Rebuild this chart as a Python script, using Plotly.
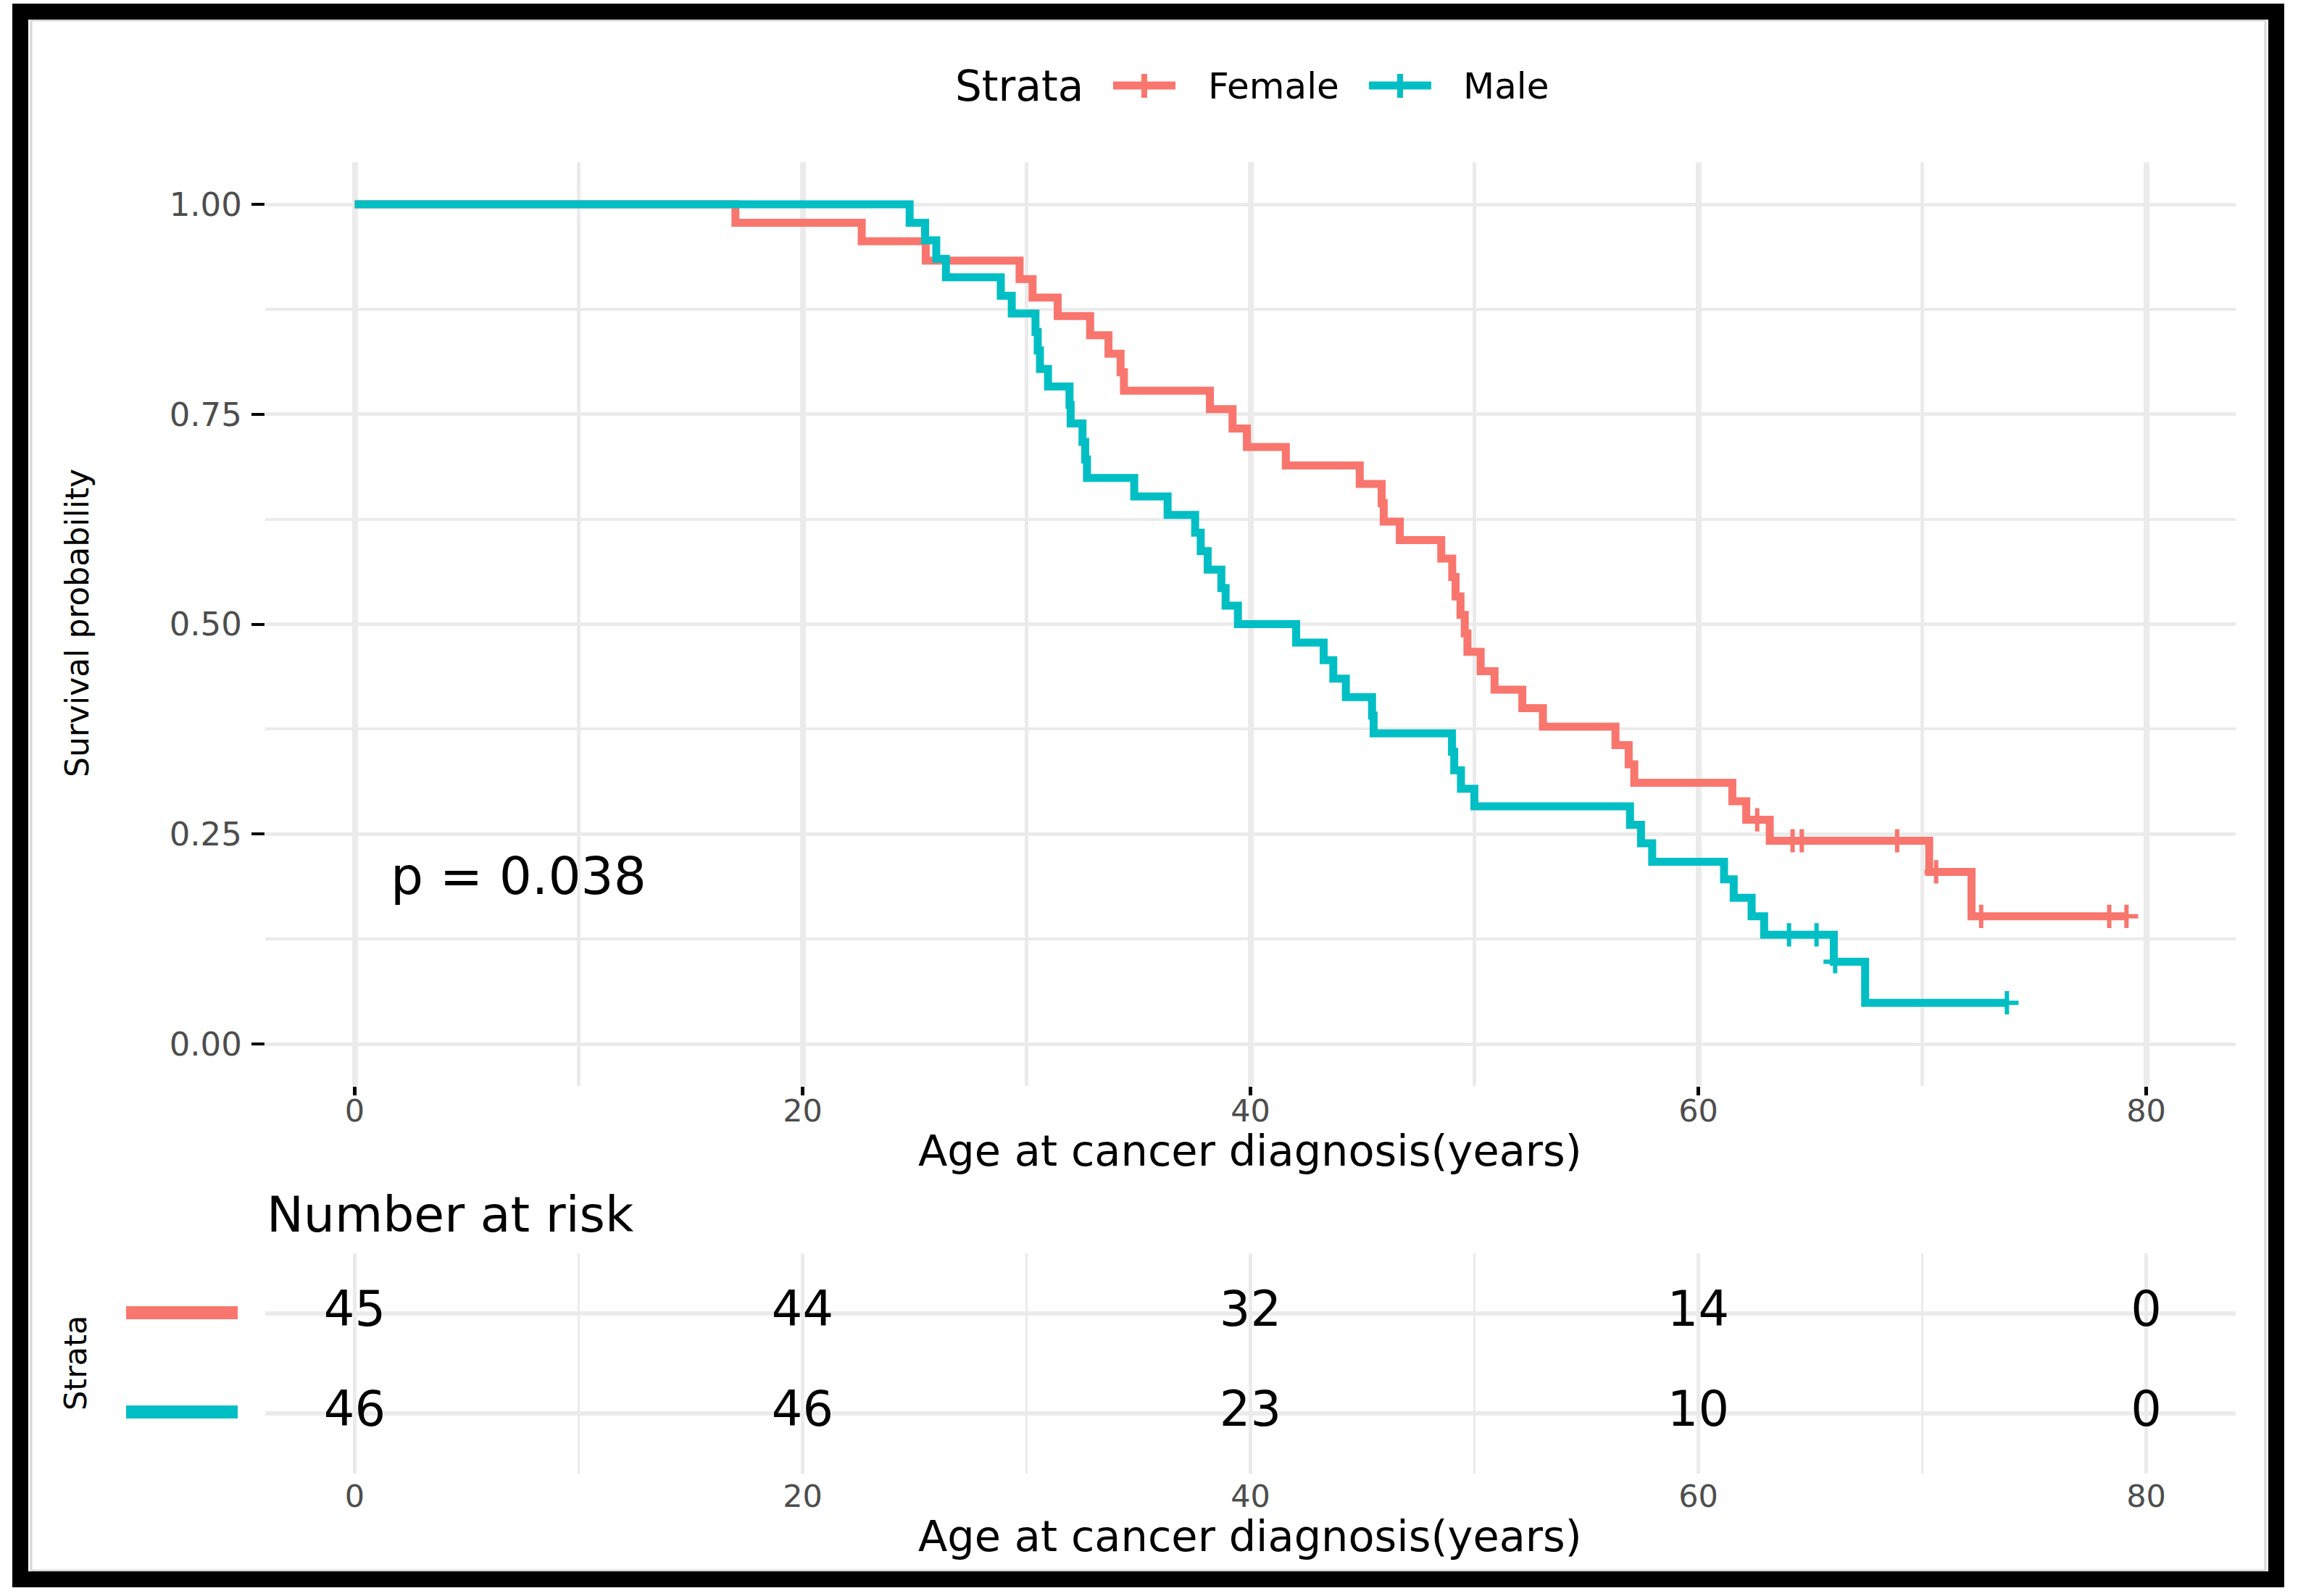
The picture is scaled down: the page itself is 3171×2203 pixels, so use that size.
import plotly.graph_objects as go

# ---------------- data ----------------
female_time = [0, 17.0, 22.64, 25.5, 29.69, 30.27, 31.39, 32.84, 33.66, 34.2, 34.35, 38.19, 39.2, 39.84,
               41.58, 44.88, 45.86, 45.95, 46.67, 48.52, 49.01, 49.16, 49.38, 49.57, 49.69, 50.28, 50.9,
               52.14, 53.06, 56.3, 56.89, 57.14, 61.52, 62.14, 63.19, 70.31, 72.2, 79.12]
female_surv = [1.0, 0.978, 0.956, 0.933, 0.911, 0.889, 0.867, 0.844, 0.822, 0.8, 0.778, 0.756, 0.733, 0.711,
               0.689, 0.667, 0.644, 0.622, 0.6, 0.578, 0.556, 0.533, 0.511, 0.489, 0.467, 0.444, 0.422,
               0.4, 0.378, 0.356, 0.333, 0.311, 0.289, 0.267, 0.242, 0.205, 0.152, 0.152]
female_cens_time = [62.63, 64.21, 64.62, 68.88, 70.62, 72.63, 78.35, 79.12]
female_cens_surv = [0.267, 0.242, 0.242, 0.242, 0.205, 0.152, 0.152, 0.152]

male_time = [0, 24.78, 25.47, 25.97, 26.4, 28.85, 29.34, 30.4, 30.5, 30.6, 30.96, 31.92, 31.97, 32.5,
             32.62, 32.7, 34.81, 36.3, 37.53, 37.78, 38.09, 38.7, 38.89, 39.44, 42.04, 43.27, 43.7, 44.26,
             45.43, 45.5, 49.0, 49.1, 49.4, 50.0, 56.95, 57.44, 57.94, 61.15, 61.58, 62.38, 62.94, 66.05,
             67.45, 73.78]
male_surv = [1.0, 0.978, 0.957, 0.935, 0.913, 0.891, 0.87, 0.848, 0.826, 0.804, 0.783, 0.761, 0.739, 0.717,
             0.696, 0.674, 0.652, 0.63, 0.609, 0.587, 0.565, 0.543, 0.522, 0.5, 0.478, 0.457, 0.435, 0.413,
             0.391, 0.37, 0.348, 0.326, 0.304, 0.283, 0.261, 0.239, 0.217, 0.196, 0.174, 0.152, 0.13, 0.098,
             0.049, 0.049]
male_cens_time = [64.05, 65.28, 66.11, 73.78]
male_cens_surv = [0.13, 0.13, 0.098, 0.049]

risk_times = [0, 20, 40, 60, 80]
risk_female = [45, 44, 32, 14, 0]
risk_male = [46, 46, 23, 10, 0]

x_ticks = [0, 20, 40, 60, 80]
y_ticks = [0, 0.25, 0.5, 0.75, 1.0]
y_ticktext = ["0.00", "0.25", "0.50", "0.75", "1.00"]
strata_names = ["Female", "Male"]
p_text = "p = 0.038"

# ---------------- styling ----------------
W, H = 3171, 2203
RED = "#F8766D"
CYAN = "#00BFC4"
GRID = "#EBEBEB"
FONT = "DejaVu Sans"
TICKCOL = "#4D4D4D"


def px(x):
    return x / W


def py(y):
    return 1 - y / H


fig = go.Figure()

# survival curves
for t, s, ct, cs, col, name in [
    (female_time, female_surv, female_cens_time, female_cens_surv, RED, strata_names[0]),
    (male_time, male_surv, male_cens_time, male_cens_surv, CYAN, strata_names[1]),
]:
    fig.add_trace(go.Scatter(x=t, y=s, mode="lines", line=dict(color=col, width=11, shape="hv"),
                             name=name, showlegend=False, xaxis="x", yaxis="y"))
    fig.add_trace(go.Scatter(x=ct, y=cs, mode="markers",
                             marker=dict(symbol="cross-thin", size=23, color=col,
                                         line=dict(color=col, width=6)),
                             showlegend=False, xaxis="x", yaxis="y"))

# risk table numbers
fig.add_trace(go.Scatter(x=risk_times, y=[2] * len(risk_times), mode="text",
                         text=[str(v) for v in risk_female],
                         textfont=dict(family=FONT, size=67, color="black"),
                         showlegend=False, xaxis="x2", yaxis="y2"))
fig.add_trace(go.Scatter(x=risk_times, y=[1] * len(risk_times), mode="text",
                         text=[str(v) for v in risk_male],
                         textfont=dict(family=FONT, size=67, color="black"),
                         showlegend=False, xaxis="x2", yaxis="y2"))

xdom = [px(365.9), px(3085.1)]

fig.update_layout(
    width=W, height=H,
    margin=dict(l=0, r=0, t=0, b=0),
    paper_bgcolor="white", plot_bgcolor="white",
    showlegend=False,
    font=dict(family=FONT, color="black"),
    xaxis=dict(domain=xdom, range=[-4, 84], tickmode="array", tickvals=x_ticks,
               showgrid=True, gridcolor=GRID, gridwidth=7.5, zeroline=False, showline=False,
               ticks="outside", ticklen=12, tickwidth=5, tickcolor="black",
               tickfont=dict(family=FONT, size=43, color=TICKCOL), ticklabelstandoff=-16,
               minor=dict(tickmode="array", tickvals=[10, 30, 50, 70], showgrid=True,
                          gridcolor=GRID, gridwidth=4.5, ticks=""),
               anchor="y"),
    yaxis=dict(domain=[py(1498.95), py(224.05)], range=[-0.05, 1.05], tickmode="array",
               tickvals=y_ticks, ticktext=y_ticktext,
               showgrid=True, gridcolor=GRID, gridwidth=5, zeroline=False, showline=False,
               ticks="outside", ticklen=18, tickwidth=4, tickcolor="black",
               tickfont=dict(family=FONT, size=45, color=TICKCOL), ticklabelstandoff=4,
               minor=dict(tickmode="array", tickvals=[0.125, 0.375, 0.625, 0.875], showgrid=True,
                          gridcolor=GRID, gridwidth=3.5, ticks=""),
               anchor="x"),
    xaxis2=dict(domain=xdom, range=[-4, 84], tickmode="array", tickvals=x_ticks,
                showgrid=True, gridcolor=GRID, gridwidth=4.5, zeroline=False, showline=False,
                ticks="", tickfont=dict(family=FONT, size=43, color=TICKCOL), ticklabelstandoff=2,
                minor=dict(tickmode="array", tickvals=[10, 30, 50, 70], showgrid=True,
                           gridcolor=GRID, gridwidth=3, ticks=""),
                anchor="y2"),
    yaxis2=dict(domain=[py(2034), py(1730)], range=[0.4, 2.6], tickmode="array", tickvals=[1, 2],
                showticklabels=False, showgrid=True, gridcolor=GRID, gridwidth=6,
                zeroline=False, showline=False, ticks="", anchor="x2"),
)

annotations = [
    # legend
    dict(x=px(1316), y=py(119), text="Strata", xanchor="left", yanchor="middle",
         font=dict(size=58, color="black")),
    dict(x=px(1665), y=py(119), text=strata_names[0], xanchor="left", yanchor="middle",
         font=dict(size=50, color="black")),
    dict(x=px(2017), y=py(119), text=strata_names[1], xanchor="left", yanchor="middle",
         font=dict(size=50, color="black")),
    # axis titles
    dict(x=px(106), y=py(860), text="Survival probability", textangle=-90, xanchor="center",
         yanchor="middle", font=dict(size=44, color="black")),
    dict(x=px(1725), y=py(1588), text="Age at cancer diagnosis(years)", xanchor="center",
         yanchor="middle", font=dict(size=59, color="black")),
    dict(x=px(366), y=py(1676), text="Number at risk", xanchor="left", yanchor="middle",
         font=dict(size=68, color="black")),
    dict(x=px(104), y=py(1882), text="Strata", textangle=-90, xanchor="center",
         yanchor="middle", font=dict(size=43, color="black")),
    dict(x=px(1725), y=py(2120), text="Age at cancer diagnosis(years)", xanchor="center",
         yanchor="middle", font=dict(size=59, color="black")),
    # p-value
    dict(x=1.55, y=0.2, xref="x", yref="y", text=p_text, xanchor="left", yanchor="middle",
         font=dict(size=71, color="black")),
]
for a in annotations:
    a.setdefault("xref", "paper")
    a.setdefault("yref", "paper")
    a["showarrow"] = False
fig.update_layout(annotations=annotations)

shapes = []
# legend keys
for x0, x1, col in [(1536, 1622, RED), (1889, 1975, CYAN)]:
    shapes.append(dict(type="line", xref="paper", yref="paper", x0=px(x0), x1=px(x1),
                       y0=py(118), y1=py(118), line=dict(color=col, width=11)))
    xm = (x0 + x1) / 2
    shapes.append(dict(type="line", xref="paper", yref="paper", x0=px(xm), x1=px(xm),
                       y0=py(102), y1=py(135), line=dict(color=col, width=8)))
# risk table strata colour keys
for yc, col in [(1812, RED), (1949, CYAN)]:
    shapes.append(dict(type="rect", xref="paper", yref="paper", x0=px(174), x1=px(328),
                       y0=py(yc - 9), y1=py(yc + 9), fillcolor=col, line=dict(width=0)))
# frame
shapes.append(dict(type="rect", xref="paper", yref="paper", x0=px(43), x1=px(3126),
                   y0=py(28), y1=py(2168), line=dict(color="#D6D6D6", width=3)))
shapes.append(dict(type="rect", xref="paper", yref="paper", x0=px(28), x1=px(3141),
                   y0=py(16), y1=py(2180), line=dict(color="black", width=22)))
fig.update_layout(shapes=shapes)

fig.write_html("out.html", config={"displayModeBar": False},
               post_script="document.body.style.margin='0';document.body.style.overflow='hidden';")
